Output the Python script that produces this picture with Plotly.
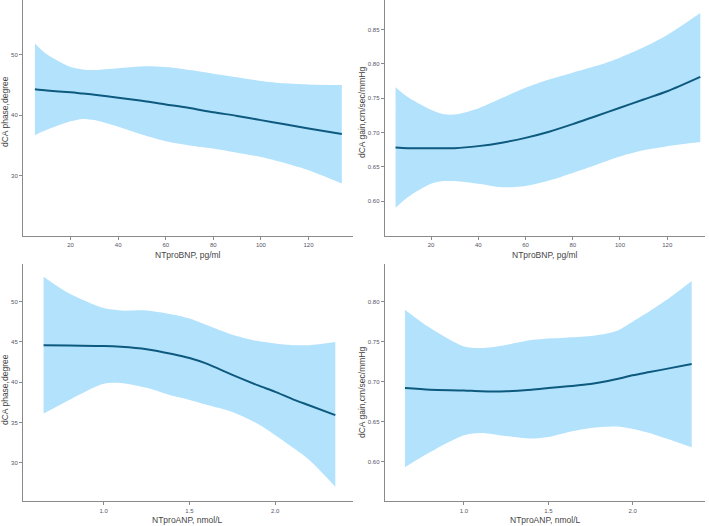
import plotly.graph_objects as go

# ---- Data ----
bnp_x = [5, 10, 20, 25, 30, 40, 50, 60, 70, 80, 90, 100, 110, 120, 134]
phase_bnp_fit = [44.3, 44.1, 43.8, 43.6, 43.4, 42.9, 42.4, 41.8, 41.2, 40.5, 39.9, 39.2, 38.5, 37.8, 36.9]
phase_bnp_hi = [51.9, 50.1, 48.0, 47.6, 47.5, 47.8, 48.1, 48.0, 47.5, 46.9, 46.3, 45.7, 45.3, 45.1, 45.0]
phase_bnp_lo = [36.7, 37.6, 39.0, 39.4, 39.2, 38.1, 36.8, 35.7, 35.0, 34.5, 33.8, 33.1, 32.1, 30.9, 28.7]

gain_bnp_fit = [0.678, 0.677, 0.677, 0.677, 0.677, 0.680, 0.685, 0.692, 0.701, 0.712, 0.724, 0.736, 0.748, 0.760, 0.781]
gain_bnp_hi = [0.766, 0.752, 0.733, 0.727, 0.726, 0.735, 0.750, 0.765, 0.777, 0.787, 0.797, 0.809, 0.824, 0.842, 0.874]
gain_bnp_lo = [0.590, 0.605, 0.625, 0.629, 0.629, 0.625, 0.620, 0.622, 0.630, 0.641, 0.653, 0.665, 0.674, 0.680, 0.686]

anp_x = [0.65, 0.8, 1.0, 1.1, 1.25, 1.4, 1.5, 1.6, 1.75, 1.9, 2.0, 2.1, 2.2, 2.35]
phase_anp_fit = [44.6, 44.55, 44.5, 44.4, 44.1, 43.5, 43.0, 42.3, 40.9, 39.6, 38.8, 37.9, 37.1, 35.9]
phase_anp_hi = [53.1, 51.0, 49.2, 48.9, 48.9, 48.4, 47.9, 47.1, 45.9, 45.1, 44.8, 44.6, 44.6, 45.0]
phase_anp_lo = [36.1, 37.8, 39.8, 39.9, 39.3, 38.3, 37.8, 37.2, 36.3, 34.8, 33.4, 31.9, 30.3, 27.0]

gain_anp_fit = [0.692, 0.690, 0.689, 0.688, 0.688, 0.690, 0.692, 0.694, 0.697, 0.703, 0.708, 0.712, 0.716, 0.722]
gain_anp_hi = [0.790, 0.767, 0.744, 0.742, 0.746, 0.752, 0.754, 0.755, 0.757, 0.763, 0.775, 0.788, 0.802, 0.826]
gain_anp_lo = [0.593, 0.612, 0.633, 0.636, 0.632, 0.629, 0.631, 0.636, 0.642, 0.644, 0.641, 0.636, 0.629, 0.618]

bnp_ticks = [20, 40, 60, 80, 100, 120]
anp_ticks = [1.0, 1.5, 2.0]
phase_bnp_ticks = [30, 40, 50]
gain_bnp_ticks = [0.60, 0.65, 0.70, 0.75, 0.80, 0.85]
phase_anp_ticks = [30, 35, 40, 45, 50]
gain_anp_ticks = [0.60, 0.65, 0.70, 0.75, 0.80]

x_title_bnp = "NTproBNP, pg/ml"
x_title_anp = "NTproANP, nmol/L"
y_title_phase = "dCA phase,degree"
y_title_gain = "dCA gain,cm/sec/mmHg"

# ---- Styling ----
W, H = 709, 526
BAND = "#b3e2fd"
LINE = "#0d5a7e"
AXIS = "#8a8a8a"
TICKF = dict(family="Liberation Sans, Arial", size=6, color="#555566")
TITLEF = dict(family="Liberation Sans, Arial", size=8.5, color="#444444")

def px_x(p):
    return p / W

def px_y(p):
    return 1 - p / H

panels = [
    dict(x=bnp_x, fit=phase_bnp_fit, hi=phase_bnp_hi, lo=phase_bnp_lo,
         xd=[23, 353], yd=[0, 236], xr=[0, 138.7], yr=[20, 59.1],
         xt=bnp_ticks, yt=phase_bnp_ticks, yfmt=".0f", xfmt=".0f",
         xtitle=x_title_bnp, ytitle=y_title_phase, xtp=(188, 255), ytp=(5, 112)),
    dict(x=bnp_x, fit=gain_bnp_fit, hi=gain_bnp_hi, lo=gain_bnp_lo,
         xd=[384.7, 705], yd=[0, 236], xr=[0.4, 136], yr=[0.549, 0.893],
         xt=bnp_ticks, yt=gain_bnp_ticks, yfmt=".2f", xfmt=".0f",
         xtitle=x_title_bnp, ytitle=y_title_gain, xtp=(545, 255), ytp=(362, 113)),
    dict(x=anp_x, fit=phase_anp_fit, hi=phase_anp_hi, lo=phase_anp_lo,
         xd=[23, 353], yd=[264, 501.3], xr=[0.530, 2.453], yr=[25.2, 54.68],
         xt=anp_ticks, yt=phase_anp_ticks, yfmt=".0f", xfmt=".1f",
         xtitle=x_title_anp, ytitle=y_title_phase, xtp=(188, 520), ytp=(5, 390)),
    dict(x=anp_x, fit=gain_anp_fit, hi=gain_anp_hi, lo=gain_anp_lo,
         xd=[384.7, 705], yd=[264, 501.3], xr=[0.530, 2.429], yr=[0.5505, 0.8471],
         xt=anp_ticks, yt=gain_anp_ticks, yfmt=".2f", xfmt=".1f",
         xtitle=x_title_anp, ytitle=y_title_gain, xtp=(545, 520), ytp=(362, 393)),
]

fig = go.Figure()
annotations = []
for i, p in enumerate(panels, start=1):
    xa = "x" if i == 1 else f"x{i}"
    ya = "y" if i == 1 else f"y{i}"
    fig.add_trace(go.Scatter(x=p["x"], y=p["hi"], mode="lines", line=dict(width=0, shape="spline", smoothing=0.8),
                             xaxis=xa, yaxis=ya, showlegend=False, hoverinfo="skip"))
    fig.add_trace(go.Scatter(x=p["x"], y=p["lo"], mode="lines", line=dict(width=0, shape="spline", smoothing=0.8),
                             fill="tonexty", fillcolor=BAND,
                             xaxis=xa, yaxis=ya, showlegend=False, hoverinfo="skip"))
    fig.add_trace(go.Scatter(x=p["x"], y=p["fit"], mode="lines", line=dict(color=LINE, width=2, shape="spline", smoothing=0.8),
                             xaxis=xa, yaxis=ya, showlegend=False))
    axcommon = dict(showline=True, linecolor=AXIS, linewidth=1, showgrid=False, zeroline=False,
                    ticks="outside", ticklen=3, tickcolor=AXIS, tickfont=TICKF, automargin=False)
    fig.layout[f"xaxis{i if i > 1 else ''}"] = dict(
        domain=[px_x(p["xd"][0]), px_x(p["xd"][1])], range=p["xr"], anchor=ya,
        tickvals=p["xt"], tickformat=p["xfmt"], **axcommon)
    fig.layout[f"yaxis{i if i > 1 else ''}"] = dict(
        domain=[px_y(p["yd"][1]), px_y(p["yd"][0])], range=p["yr"], anchor=xa,
        tickvals=p["yt"], tickformat=p["yfmt"], **axcommon)
    annotations.append(dict(text=p["xtitle"], x=px_x(p["xtp"][0]), y=px_y(p["xtp"][1]),
                            xref="paper", yref="paper", showarrow=False, font=TITLEF,
                            xanchor="center", yanchor="middle"))
    annotations.append(dict(text=p["ytitle"], x=px_x(p["ytp"][0]), y=px_y(p["ytp"][1]),
                            xref="paper", yref="paper", showarrow=False, font=TITLEF, textangle=-90,
                            xanchor="center", yanchor="middle"))

fig.update_layout(width=W, height=H, margin=dict(l=0, r=0, t=0, b=0, autoexpand=False),
                  paper_bgcolor="white", plot_bgcolor="white", annotations=annotations)
fig.write_html("out.html", config={"displayModeBar": False},
               post_script="document.body.style.margin='0';document.body.style.overflow='hidden';")
